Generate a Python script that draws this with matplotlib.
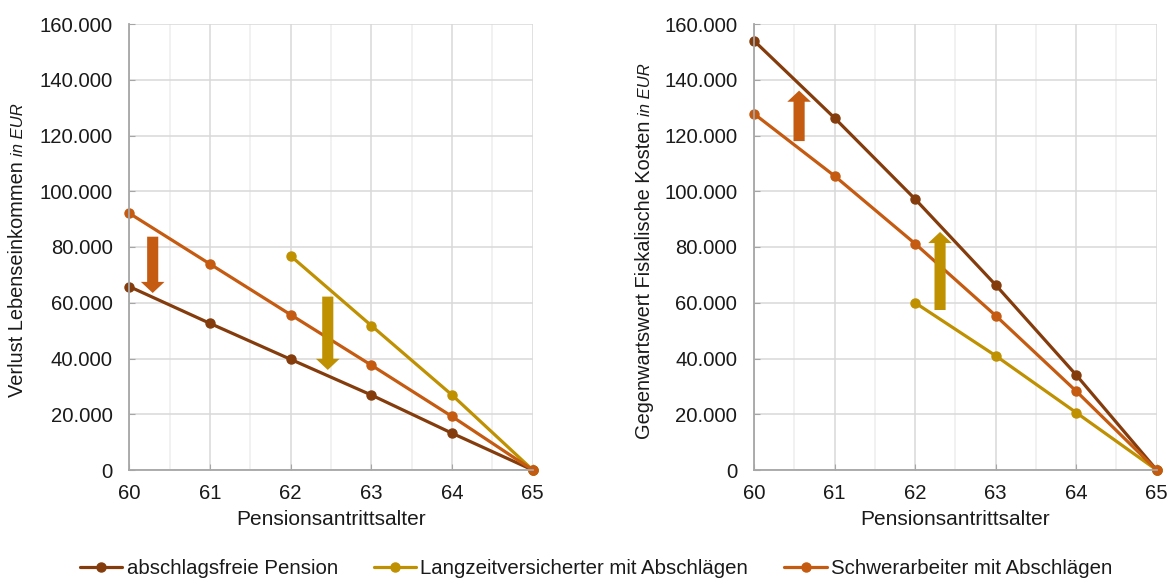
import matplotlib
matplotlib.use("Agg")
import matplotlib.pyplot as plt
from matplotlib.patches import FancyArrowPatch, ArrowStyle
from matplotlib.ticker import FuncFormatter, MultipleLocator

plt.rcParams['font.family'] = ['Liberation Sans', 'DejaVu Sans']

# data
ages = [60, 61, 62, 63, 64, 65]
ages_lz = [62, 63, 64, 65]

verlust_frei = [65800, 52600, 39700, 26900, 13200, 0]
verlust_schwer = [92100, 73900, 55700, 37600, 19200, 0]
verlust_lang = [76800, 51800, 26900, 0]

kosten_frei = [154000, 126300, 97200, 66400, 34100, 0]
kosten_schwer = [127800, 105500, 81200, 55400, 28300, 0]
kosten_lang = [60000, 41000, 20600, 0]

labels = ["abschlagsfreie Pension", "Langzeitversicherter mit Abschlägen",
          "Schwerarbeiter mit Abschlägen"]
ylabels = ["Verlust Lebenseinkommen", "Gegenwartswert Fiskalische Kosten"]
xlabel = "Pensionsantrittsalter"

# arrows: (x, y_start, y_end, colour index)
arrows_left = [(60.29, 83700, 63500, 2), (62.46, 62200, 35900, 1)]
arrows_right = [(60.56, 118000, 136100, 2), (62.31, 57400, 85400, 1)]

c_frei = "#843C0C"
c_lang = "#BF9000"
c_schwer = "#C55A11"
colors = [c_frei, c_lang, c_schwer]
txt = "#1a1a1a"

W, H = 1172, 579
fig = plt.figure(figsize=(W / 100, H / 100), dpi=100)
ax1 = fig.add_axes([129.3 / W, 1 - 470 / H, 403.4 / W, 446 / H])
ax2 = fig.add_axes([754 / W, 1 - 470 / H, 402.7 / W, 446 / H])

fmt = FuncFormatter(lambda v, p: f"{int(v):,}".replace(",", "."))


def style(ax):
    ax.set_xlim(60, 65)
    ax.set_ylim(0, 160000)
    ax.xaxis.set_major_locator(MultipleLocator(1))
    ax.xaxis.set_minor_locator(MultipleLocator(0.5))
    ax.yaxis.set_major_locator(MultipleLocator(20000))
    ax.yaxis.set_major_formatter(fmt)
    ax.grid(which="major", color="#D9D9D9", lw=1.1)
    ax.grid(which="minor", axis="x", color="#EEEEEE", lw=1.1)
    ax.set_axisbelow(True)
    for s in ["top", "right"]:
        ax.spines[s].set_visible(False)
    for s in ["left", "bottom"]:
        ax.spines[s].set_color("#A6A6A6")
        ax.spines[s].set_linewidth(1.3)
    ax.tick_params(axis="both", which="major", direction="in", length=4,
                   color="#A6A6A6", labelsize=14.6, labelcolor=txt)
    ax.tick_params(axis="y", pad=12)
    ax.tick_params(axis="x", pad=10)
    ax.tick_params(which="minor", length=0)
    ax.set_xlabel(xlabel, fontsize=15, color=txt, labelpad=5)


def draw(ax, frei, schwer, lang, arrows):
    kw = dict(lw=2.3, marker="o", ms=6.5, solid_capstyle="round", clip_on=False)
    ax.plot(ages, frei, color=c_frei, label=labels[0], **kw)
    ax.plot(ages_lz, lang, color=c_lang, label=labels[1], **kw)
    ax.plot(ages, schwer, color=c_schwer, label=labels[2], **kw)
    for x, y0, y1, ci in arrows:
        st = ArrowStyle.Simple(head_length=8, head_width=17, tail_width=8)
        ax.add_patch(FancyArrowPatch((x, y0), (x, y1), arrowstyle=st,
                                     mutation_scale=1, color=colors[ci],
                                     shrinkA=0, shrinkB=0, lw=0, zorder=4))


style(ax1)
style(ax2)
draw(ax1, verlust_frei, verlust_schwer, verlust_lang, arrows_left)
draw(ax2, kosten_frei, kosten_schwer, kosten_lang, arrows_right)

# y labels with small italic unit
fig.canvas.draw()
r = fig.canvas.get_renderer()
for xpx, ybot, lab in [(18, 397, ylabels[0]), (645, 439, ylabels[1])]:
    t = fig.text(xpx / W, 1 - ybot / H, lab, rotation=90, fontsize=14.4,
                 color=txt, ha="center", va="bottom")
    bb = t.get_window_extent(r)
    fig.text(xpx / W + 1 / W, (bb.y1 + 5) / H, "in EUR", rotation=90,
             fontsize=12, style="italic", color=txt, ha="center", va="bottom")

h, l = ax1.get_legend_handles_labels()
fig.legend(h, l, loc="center", bbox_to_anchor=(596 / W, 1 - 569 / H), ncol=3,
           frameon=False, fontsize=14.7, handlelength=2.1, handletextpad=0.2,
           columnspacing=1.75, labelcolor=txt)

fig.savefig("out.png", dpi=100)
